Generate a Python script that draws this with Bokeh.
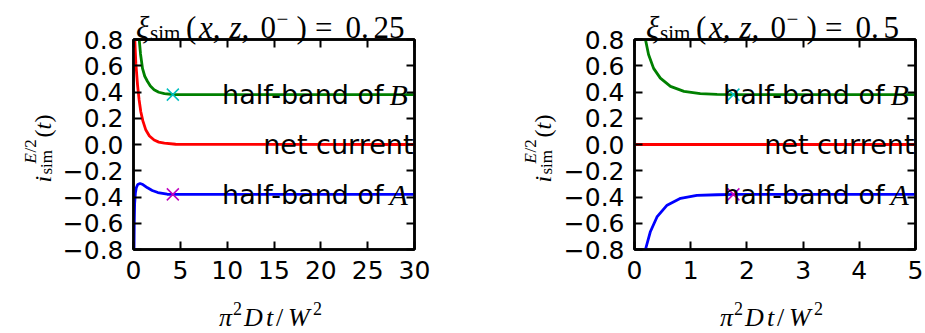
from math import pi
from bokeh.plotting import figure
from bokeh.models import Range1d, LinearAxis, FixedTicker, Label, GridBox
from bokeh.embed import file_html
from bokeh.resources import INLINE

# ---------------- data ----------------
# left panel: xi = 0.25, x range 0..30
L_t_B = [0.55, 0.61, 0.75, 0.96, 1.2, 1.5, 1.8, 2.2, 2.7, 3.3, 4.2, 5.0, 30.0]
L_B = [0.86, 0.80, 0.69, 0.58, 0.52, 0.48, 0.445, 0.417, 0.398, 0.387, 0.381, 0.38, 0.38]
L_t_net = [0.10, 0.14, 0.25, 0.43, 0.60, 0.78, 1.0, 1.32, 1.7, 2.2, 2.7, 3.3, 4.5, 30.0]
L_net = [0.90, 0.80, 0.62, 0.455, 0.34, 0.25, 0.18, 0.11, 0.065, 0.034, 0.018, 0.01, 0.002, 0.0]
L_t_A = [0.05, 0.08, 0.12, 0.20, 0.30, 0.45, 0.70, 1.0, 1.5, 2.0, 2.6, 3.6, 5.0, 30.0]
L_A = [-0.85, -0.60, -0.45, -0.37, -0.33, -0.305, -0.297, -0.305, -0.33, -0.35, -0.366, -0.379, -0.38, -0.38]
L_mark_t = [4.2]

# right panel: xi = 0.5, x range 0..5
R_t_B = [0.18, 0.195, 0.25, 0.34, 0.46, 0.64, 0.88, 1.17, 1.47, 1.8, 5.0]
R_B = [0.83, 0.80, 0.685, 0.58, 0.506, 0.443, 0.405, 0.387, 0.382, 0.38, 0.38]
R_t_net = [0.0, 5.0]
R_net = [0.0, 0.0]
R_t_A = [0.18, 0.195, 0.28, 0.40, 0.58, 0.82, 1.11, 1.47, 1.8, 5.0]
R_A = [-0.83, -0.80, -0.667, -0.552, -0.462, -0.41, -0.388, -0.383, -0.38, -0.38]
R_mark_t = [1.76]

xi_values = ["0.25", "0.5"]

# ticks
y_ticks = [-0.8, -0.6, -0.4, -0.2, 0.0, 0.2, 0.4, 0.6, 0.8]
y_tick_labels = ["\u22120.8", "\u22120.6", "\u22120.4", "\u22120.2", "0.0", "0.2", "0.4", "0.6", "0.8"]
L_x_ticks = [0, 5, 10, 15, 20, 25, 30]
R_x_ticks = [0, 1, 2, 3, 4, 5]

# ---------------- styling ----------------
SANS = "DejaVu Sans"
SERIF = "Liberation Serif"
GREEN = "#008000"
RED = "#ff0000"
BLUE = "#0000ff"
CYAN = "#00bfbf"
MAGENTA = "#bf00bf"
W, H = 925, 333


def lab(p, x, y, text, dx, dy, font, size, style="normal", angle=0.0, align="left"):
    p.add_layout(Label(x=x, y=y, x_offset=dx, y_offset=dy, text=text,
                       text_font=font, text_font_size=f"{size}px",
                       text_font_style=style, text_baseline="alphabetic",
                       text_align=align, angle=angle, text_color="black"))


def make_panel(xmax, xticks, series, marks, width, mbl):
    fw = 281
    p = figure(width=width, height=H, frame_width=fw, frame_height=210,
               min_border_left=mbl, min_border_right=width - mbl - fw,
               min_border_top=39, min_border_bottom=H - 39 - 210,
               x_range=Range1d(0, xmax), y_range=Range1d(-0.8, 0.8),
               output_backend="svg", toolbar_location=None,
               x_axis_location=None, y_axis_location=None)
    p.frame_align = False
    p.background_fill_color = "white"
    p.border_fill_color = "white"
    p.outline_line_color = "black"
    p.outline_line_width = 2.5
    p.xgrid.visible = False
    p.ygrid.visible = False

    overrides = {v: s for v, s in zip(y_ticks, y_tick_labels)}
    for loc in ["below", "above", "left", "right"]:
        if loc in ("below", "above"):
            ax = LinearAxis(ticker=FixedTicker(ticks=xticks))
        else:
            ax = LinearAxis(ticker=FixedTicker(ticks=y_ticks), major_label_overrides=overrides)
        ax.axis_line_color = "black"
        ax.axis_line_width = 2.5
        ax.major_tick_in = 8
        ax.major_tick_out = 0
        ax.major_tick_line_width = 2
        ax.major_tick_line_color = "black"
        ax.minor_tick_line_color = None
        ax.major_label_text_font = SANS
        if loc in ("below", "left"):
            ax.major_label_text_color = "black"
            ax.major_label_text_font_size = "25px"
            ax.major_label_standoff = 11 if loc == "below" else 10
        else:
            ax.major_label_text_color = None
            ax.major_label_text_font_size = "2px"
            ax.major_label_standoff = 0
        p.add_layout(ax, loc)

    (tB, B), (tN, N), (tA, A) = series
    p.line(tB, B, line_color=GREEN, line_width=2.8)
    p.line(tN, N, line_color=RED, line_width=2.8)
    p.line(tA, A, line_color=BLUE, line_width=2.8)
    p.scatter(marks, [B[-1]] * len(marks), marker="x", size=17, line_color=CYAN, line_width=1.5)
    p.scatter(marks, [A[-1]] * len(marks), marker="x", size=17, line_color=MAGENTA, line_width=1.5)

    # curve annotations
    lab(p, xmax, B[-1], "half-band of", -31, 0, SANS, 27, align="right")
    lab(p, xmax, B[-1], "B", -25, 0, SERIF, 30, style="italic")
    lab(p, xmax, N[-1], "net current", -1, 0, SANS, 27, align="right")
    lab(p, xmax, A[-1], "half-band of", -31, 0, SANS, 27, align="right")
    lab(p, xmax, A[-1], "A", -25, 0, SERIF, 30, style="italic")
    return p


p1 = make_panel(30, L_x_ticks, [(L_t_B, L_B), (L_t_net, L_net), (L_t_A, L_A)], L_mark_t, 460, 133)
p2 = make_panel(5, R_x_ticks, [(R_t_B, R_B), (R_t_net, R_net), (R_t_A, R_A)], R_mark_t, 465, 174)

# ---------------- text layer (pixel coordinates, y downwards) ----------------
ov = figure(width=W, height=H, x_range=Range1d(0, W), y_range=Range1d(H, 0),
            min_border=0, output_backend="svg", toolbar_location=None,
            x_axis_location=None, y_axis_location=None)
ov.frame_align = False
ov.background_fill_color = None
ov.border_fill_color = None
ov.outline_line_color = None
ov.xgrid.visible = False
ov.ygrid.visible = False

frame_centres = [273.5, 774.5]
title_starts = [135.5, 645.5]
ylabel_x = [42.0, 542.0]
for k in range(2):
    # title: xi_sim(x, z, 0^-) = value
    ip, fp = xi_values[k].split(".")
    segs = [("\u03be", 0, 0, 31, "italic"), ("sim", 14, -5.5, 21, "normal"),
            ("(", 50, 0, 31, "normal"), ("x,", 63, 0, 31, "italic"),
            ("z,", 93.5, 0, 31, "italic"), ("0", 124.5, 0, 31, "normal"),
            ("\u2212", 140.5, 8.5, 21, "normal"), (")", 160.5, 0, 31, "normal"),
            ("=", 179, 0, 31, "normal"), (ip + ".", 209.5, 0, 31, "normal"),
            (fp, 237.5, 0, 31, "normal")]
    for t, a, d, sz, st in segs:
        lab(ov, title_starts[k] + a, 26.7, t, 0, d, SERIF, sz, style=st)

    # x label: pi^2 Dt / W^2
    xs = frame_centres[k] - 55
    for t, a, d, sz, st in [("\u03c0", 0, 0, 26, "italic"), ("2", 14, 9, 18, "normal"),
                            ("D", 25, 0, 26, "italic"), ("t", 47, 0, 26, "italic"),
                            ("/", 57, 0, 26, "normal"), ("W", 69, 0, 26, "italic"),
                            ("2", 94, 9, 18, "normal")]:
        lab(ov, xs + a, 316.7, t, 0, d, SERIF, sz, style=st)

    # y label: i_sim^{E/2}(t), rotated
    for t, a, d, sz, st in [("i", 0, 0, 24, "italic"), ("sim", 8, 3.5, 17, "normal"),
                            ("E", 19, -12, 17, "italic"), ("/2", 30, -12, 17, "normal"),
                            ("(", 45, 0, 24, "normal"), ("t", 53, 0, 24, "italic"),
                            (")", 60, 0, 24, "normal")]:
        lab(ov, ylabel_x[k], 182.0, t, d, a, SERIF, sz, style=st, angle=pi / 2)

layout = GridBox(children=[(p1, 0, 0), (p2, 0, 1), (ov, 0, 0, 1, 2)], spacing=0)
open("out.html", "w").write(file_html(layout, INLINE))
